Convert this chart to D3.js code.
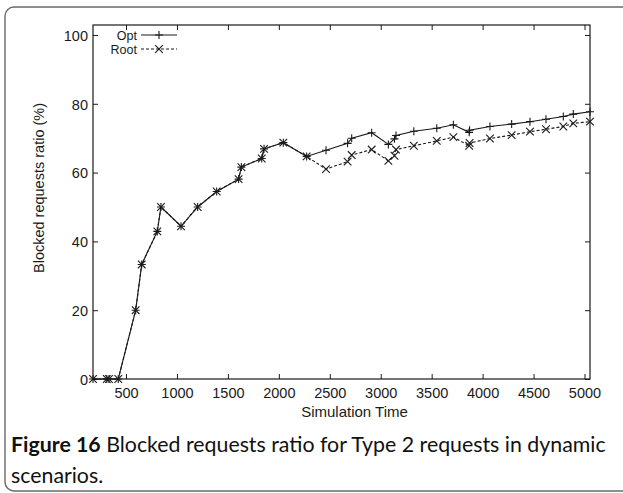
<!DOCTYPE html>
<html>
<head>
<meta charset="utf-8">
<script src="https://cdn.jsdelivr.net/npm/d3@7/dist/d3.min.js"></script>
<style>
  html, body { margin: 0; padding: 0; background: #fff; }
  svg { display: block; }
</style>
</head>
<body>
<script>
// Simulation time stamps shared by both series
const times = [176, 311, 333, 424, 595, 654, 807, 843, 1040, 1203, 1390, 1605, 1632, 1832, 1855,
  2044, 2273, 2463, 2675, 2715, 2911, 3075, 3135, 3150, 3325, 3550, 3713, 3868, 3872,
  4072, 4285, 4465, 4622, 4792, 4890, 5054];
// Blocked requests ratio (%) per strategy
const optValues = [0, 0, 0, 0, 20, 33.3, 42.9, 50, 44.4, 50, 54.5, 58.1, 61.6, 64.1, 66.9,
  68.7, 64.7, 66.5, 68.5, 70, 71.6, 68.2, 69.8, 70.8, 72, 72.9, 73.9, 71.7, 72.3,
  73.4, 74.1, 74.8, 75.5, 76.3, 77, 77.7];
const rootValues = [0, 0, 0, 0, 20, 33.3, 42.9, 50, 44.4, 50, 54.5, 58.1, 61.6, 64.1, 66.9,
  68.7, 64.7, 61, 63.2, 65.1, 66.7, 63.4, 64.9, 66.7, 67.8, 69.2, 70.3, 67.8, 68.6,
  69.9, 70.9, 71.9, 72.6, 73.4, 74.3, 74.8];
const seriesNames = ["Opt", "Root"];
const xTicks = [500, 1000, 1500, 2000, 2500, 3000, 3500, 4000, 4500, 5000];
const yTicks = [0, 20, 40, 60, 80, 100];

const W = 623, H = 493;
const plot = { left: 93, right: 590, top: 25, bottom: 379 };
const ink = "#1a1a1a";
const axisFont = "'Liberation Sans', Arial, Helvetica, sans-serif";

const svg = d3.select("body").append("svg").attr("width", W).attr("height", H);

// figure panel border
svg.append("rect")
  .attr("x", 5).attr("y", 7).attr("width", 640).attr("height", 484)
  .attr("rx", 9).attr("ry", 9)
  .attr("fill", "none").attr("stroke", "#6a6a6a").attr("stroke-width", 1.4);

const x = d3.scaleLinear().domain([176, 5054]).range([plot.left, plot.right]);
const y = d3.scaleLinear().domain([0, 102.9]).range([plot.bottom, plot.top]);

const g = svg.append("g");
const tickLen = 5;

// bottom axis with inward ticks, mirrored on top
const xAxis = d3.axisBottom(x).tickValues(xTicks).tickSize(-tickLen).tickPadding(9).tickFormat(d3.format("d"));
const xg = g.append("g").attr("transform", `translate(0,${plot.bottom})`).call(xAxis);
const xTop = d3.axisTop(x).tickValues(xTicks).tickSize(-tickLen).tickFormat("");
const xtg = g.append("g").attr("transform", `translate(0,${plot.top})`).call(xTop);

// left axis with inward ticks, mirrored on right
const yAxis = d3.axisLeft(y).tickValues(yTicks).tickSize(-tickLen).tickPadding(5);
const yg = g.append("g").attr("transform", `translate(${plot.left},0)`).call(yAxis);
const yRight = d3.axisRight(y).tickValues(yTicks).tickSize(-tickLen).tickFormat("");
const yrg = g.append("g").attr("transform", `translate(${plot.right},0)`).call(yRight);

[xg, xtg, yg, yrg].forEach(a => {
  a.select(".domain").remove();
  a.selectAll(".tick line").attr("stroke", ink).attr("stroke-width", 1);
  a.selectAll("text").attr("fill", ink).style("font-family", axisFont).style("font-size", "14.5px");
});
xg.selectAll("text").attr("dy", "0.71em");
yg.selectAll("text").attr("dy", "0.36em");

// plot frame
g.append("rect")
  .attr("x", plot.left).attr("y", plot.top)
  .attr("width", plot.right - plot.left).attr("height", plot.bottom - plot.top)
  .attr("fill", "none").attr("stroke", ink).attr("stroke-width", 1.2);

// axis titles
svg.append("text")
  .attr("x", (plot.left + plot.right) / 2 + 13).attr("y", 417)
  .attr("text-anchor", "middle").attr("fill", ink)
  .style("font-family", axisFont).style("font-size", "15px")
  .text("Simulation Time");
svg.append("text")
  .attr("transform", "translate(44,188) rotate(-90)")
  .attr("text-anchor", "middle").attr("fill", ink)
  .style("font-family", axisFont).style("font-size", "14.5px")
  .text("Blocked requests ratio (%)");

// series
const series = [
  { name: seriesNames[0], values: optValues, dash: null, marker: "plus" },
  { name: seriesNames[1], values: rootValues, dash: "3,2", marker: "cross" }
];
const line = d3.line().x(d => x(d[0])).y(d => y(d[1]));
const plusPath = (cx, cy, r) => `M${cx - r},${cy}H${cx + r}M${cx},${cy - r}V${cy + r}`;
const crossPath = (cx, cy, r) => `M${cx - r},${cy - r}L${cx + r},${cy + r}M${cx - r},${cy + r}L${cx + r},${cy - r}`;
const markerPath = (kind, cx, cy) => kind === "plus" ? plusPath(cx, cy, 4) : crossPath(cx, cy, 3.8);

series.slice().reverse().forEach(s => {
  const pts = times.map((t, i) => [t, s.values[i]]);
  const sg = svg.append("g");
  sg.append("path").datum(pts)
    .attr("d", line).attr("fill", "none").attr("stroke", ink)
    .attr("stroke-width", 1.1).attr("stroke-dasharray", s.dash);
  sg.selectAll("path.mk").data(pts).join("path").attr("class", "mk")
    .attr("d", d => markerPath(s.marker, x(d[0]), y(d[1])))
    .attr("fill", "none").attr("stroke", ink).attr("stroke-width", 1.1);
});

// legend
const legend = svg.append("g");
series.forEach((s, i) => {
  const ly = 35 + i * 14;
  legend.append("text")
    .attr("x", 137).attr("y", ly).attr("dy", "0.36em")
    .attr("text-anchor", "end").attr("fill", ink)
    .style("font-family", axisFont).style("font-size", "12.5px")
    .text(s.name);
  legend.append("path")
    .attr("d", `M141,${ly}H177`).attr("stroke", ink).attr("stroke-width", 1.1)
    .attr("stroke-dasharray", s.dash);
  legend.append("path")
    .attr("d", markerPath(s.marker, 159, ly))
    .attr("fill", "none").attr("stroke", ink).attr("stroke-width", 1.1);
});

// caption
const capFont = "Lato, 'Open Sans', sans-serif";
const cap1 = svg.append("text").attr("x", 11).attr("y", 452)
  .attr("fill", "#111").style("font-family", capFont).style("font-size", "20px");
cap1.append("tspan").style("font-weight", "bold").text("Figure 16");
cap1.append("tspan").text(" Blocked requests ratio for Type 2 requests in dynamic");
const cap2 = svg.append("text").attr("x", 11).attr("y", 483)
  .attr("fill", "#111").style("font-family", capFont).style("font-size", "20px")
  .text("scenarios.");
// size the caption so its first line spans the panel width
const targetW = 595;
const w = cap1.node().getComputedTextLength();
const fs = 20 * targetW / w;
cap1.style("font-size", fs + "px");
cap2.style("font-size", fs + "px");
</script>
</body>
</html>
